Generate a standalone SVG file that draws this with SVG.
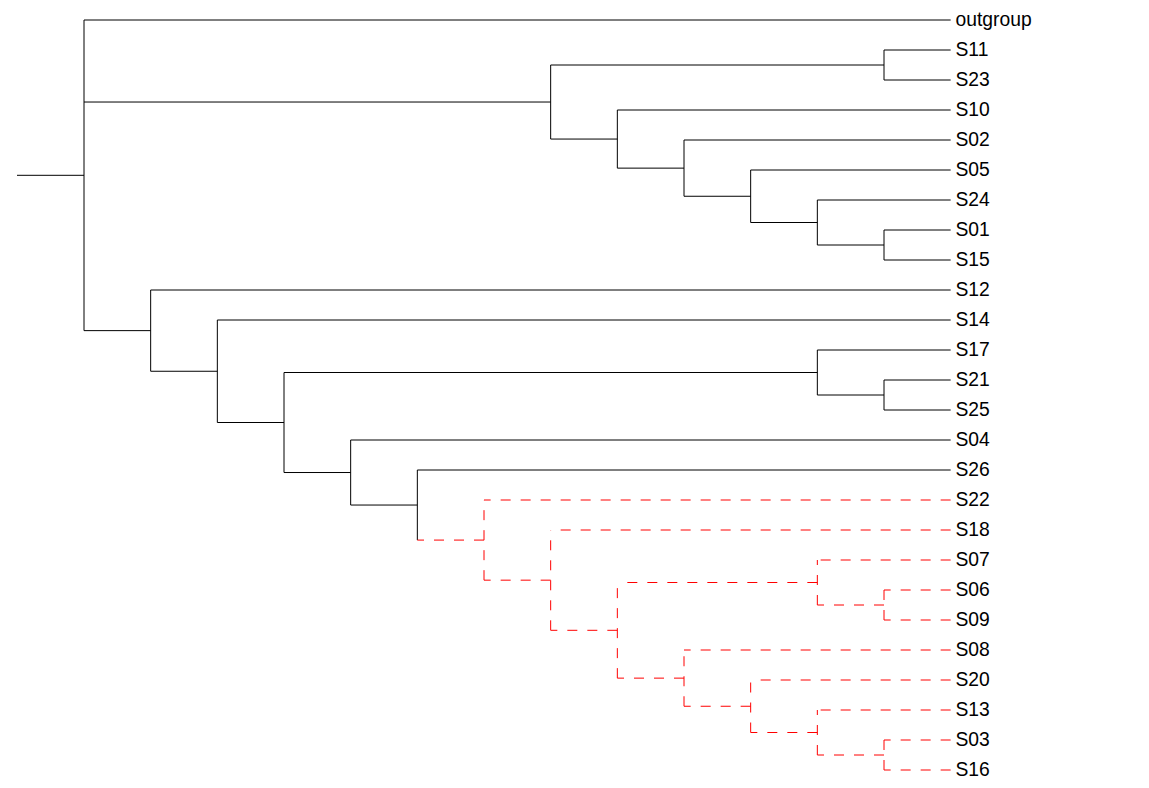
<svg xmlns="http://www.w3.org/2000/svg" width="1149" height="788" viewBox="0 0 1149 788">
<style>
.b{stroke:#000;stroke-width:1;fill:none}
.r{stroke:#FF0000;stroke-width:1;fill:none;stroke-dasharray:10 10}
text{font-family:"Liberation Sans",Arial,sans-serif;font-size:19.3px;fill:#000}
</style>
<rect width="1149" height="788" fill="#fff"/>
<g id="connectors" transform="translate(0,0.5)">
<line class="b" x1="17" y1="174.8" x2="84" y2="174.8"/>
<line class="b" x1="84" y1="19.5" x2="84" y2="330.13"/>
<line class="b" x1="84" y1="19.5" x2="950.67" y2="19.5"/>
<line class="b" x1="84" y1="101.53" x2="550.67" y2="101.53"/>
<line class="b" x1="84" y1="330.13" x2="150.67" y2="330.13"/>
<line class="b" x1="550.67" y1="64.5" x2="550.67" y2="138.56"/>
<line class="b" x1="550.67" y1="64.5" x2="884" y2="64.5"/>
<line class="b" x1="550.67" y1="138.56" x2="617.33" y2="138.56"/>
<line class="b" x1="884" y1="49.5" x2="884" y2="79.5"/>
<line class="b" x1="884" y1="49.5" x2="950.67" y2="49.5"/>
<line class="b" x1="884" y1="79.5" x2="950.67" y2="79.5"/>
<line class="b" x1="617.33" y1="109.5" x2="617.33" y2="167.63"/>
<line class="b" x1="617.33" y1="109.5" x2="950.67" y2="109.5"/>
<line class="b" x1="617.33" y1="167.63" x2="684" y2="167.63"/>
<line class="b" x1="684" y1="139.5" x2="684" y2="195.75"/>
<line class="b" x1="684" y1="139.5" x2="950.67" y2="139.5"/>
<line class="b" x1="684" y1="195.75" x2="750.67" y2="195.75"/>
<line class="b" x1="750.67" y1="169.5" x2="750.67" y2="222"/>
<line class="b" x1="750.67" y1="169.5" x2="950.67" y2="169.5"/>
<line class="b" x1="750.67" y1="222" x2="817.33" y2="222"/>
<line class="b" x1="817.33" y1="199.5" x2="817.33" y2="244.5"/>
<line class="b" x1="817.33" y1="199.5" x2="950.67" y2="199.5"/>
<line class="b" x1="817.33" y1="244.5" x2="884" y2="244.5"/>
<line class="b" x1="884" y1="229.5" x2="884" y2="259.5"/>
<line class="b" x1="884" y1="229.5" x2="950.67" y2="229.5"/>
<line class="b" x1="884" y1="259.5" x2="950.67" y2="259.5"/>
<line class="b" x1="150.67" y1="289.5" x2="150.67" y2="370.76"/>
<line class="b" x1="150.67" y1="289.5" x2="950.67" y2="289.5"/>
<line class="b" x1="150.67" y1="370.76" x2="217.33" y2="370.76"/>
<line class="b" x1="217.33" y1="319.5" x2="217.33" y2="422.01"/>
<line class="b" x1="217.33" y1="319.5" x2="950.67" y2="319.5"/>
<line class="b" x1="217.33" y1="422.01" x2="284" y2="422.01"/>
<line class="b" x1="284" y1="372" x2="284" y2="472.02"/>
<line class="b" x1="284" y1="372" x2="817.33" y2="372"/>
<line class="b" x1="284" y1="472.02" x2="350.67" y2="472.02"/>
<line class="b" x1="817.33" y1="349.5" x2="817.33" y2="394.5"/>
<line class="b" x1="817.33" y1="349.5" x2="950.67" y2="349.5"/>
<line class="b" x1="817.33" y1="394.5" x2="884" y2="394.5"/>
<line class="b" x1="884" y1="379.5" x2="884" y2="409.5"/>
<line class="b" x1="884" y1="379.5" x2="950.67" y2="379.5"/>
<line class="b" x1="884" y1="409.5" x2="950.67" y2="409.5"/>
<line class="b" x1="350.67" y1="439.5" x2="350.67" y2="504.54"/>
<line class="b" x1="350.67" y1="439.5" x2="950.67" y2="439.5"/>
<line class="b" x1="350.67" y1="504.54" x2="417.33" y2="504.54"/>
<line class="b" x1="417.33" y1="469.5" x2="417.33" y2="539.58"/>
<line class="b" x1="417.33" y1="469.5" x2="950.67" y2="469.5"/>
<line class="r" x1="484" y1="539.58" x2="417.33" y2="539.58"/>
<line class="r" x1="484" y1="579.66" x2="484" y2="499.5"/>
<line class="r" x1="950.67" y1="499.5" x2="484" y2="499.5"/>
<line class="r" x1="550.67" y1="579.66" x2="484" y2="579.66"/>
<line class="r" x1="550.67" y1="629.81" x2="550.67" y2="529.5"/>
<line class="r" x1="950.67" y1="529.5" x2="550.67" y2="529.5"/>
<line class="r" x1="617.33" y1="629.81" x2="550.67" y2="629.81"/>
<line class="r" x1="617.33" y1="677.63" x2="617.33" y2="582"/>
<line class="r" x1="817.33" y1="582" x2="617.33" y2="582"/>
<line class="r" x1="817.33" y1="604.5" x2="817.33" y2="559.5"/>
<line class="r" x1="950.67" y1="559.5" x2="817.33" y2="559.5"/>
<line class="r" x1="884" y1="604.5" x2="817.33" y2="604.5"/>
<line class="r" x1="884" y1="619.5" x2="884" y2="589.5"/>
<line class="r" x1="950.67" y1="589.5" x2="884" y2="589.5"/>
<line class="r" x1="950.67" y1="619.5" x2="884" y2="619.5"/>
<line class="r" x1="684" y1="677.63" x2="617.33" y2="677.63"/>
<line class="r" x1="684" y1="705.75" x2="684" y2="649.5"/>
<line class="r" x1="950.67" y1="649.5" x2="684" y2="649.5"/>
<line class="r" x1="750.67" y1="705.75" x2="684" y2="705.75"/>
<line class="r" x1="750.67" y1="732" x2="750.67" y2="679.5"/>
<line class="r" x1="950.67" y1="679.5" x2="750.67" y2="679.5"/>
<line class="r" x1="817.33" y1="732" x2="750.67" y2="732"/>
<line class="r" x1="817.33" y1="754.5" x2="817.33" y2="709.5"/>
<line class="r" x1="950.67" y1="709.5" x2="817.33" y2="709.5"/>
<line class="r" x1="884" y1="754.5" x2="817.33" y2="754.5"/>
<line class="r" x1="884" y1="769.5" x2="884" y2="739.5"/>
<line class="r" x1="950.67" y1="739.5" x2="884" y2="739.5"/>
<line class="r" x1="950.67" y1="769.5" x2="884" y2="769.5"/>
</g>
<g id="tip-outgroup"><text x="955.5" y="25.8">outgroup</text></g>
<g id="tip-S11"><text x="955.5" y="55.8">S11</text></g>
<g id="tip-S23"><text x="955.5" y="85.8">S23</text></g>
<g id="tip-S10"><text x="955.5" y="115.8">S10</text></g>
<g id="tip-S02"><text x="955.5" y="145.8">S02</text></g>
<g id="tip-S05"><text x="955.5" y="175.8">S05</text></g>
<g id="tip-S24"><text x="955.5" y="205.8">S24</text></g>
<g id="tip-S01"><text x="955.5" y="235.8">S01</text></g>
<g id="tip-S15"><text x="955.5" y="265.8">S15</text></g>
<g id="tip-S12"><text x="955.5" y="295.8">S12</text></g>
<g id="tip-S14"><text x="955.5" y="325.8">S14</text></g>
<g id="tip-S17"><text x="955.5" y="355.8">S17</text></g>
<g id="tip-S21"><text x="955.5" y="385.8">S21</text></g>
<g id="tip-S25"><text x="955.5" y="415.8">S25</text></g>
<g id="tip-S04"><text x="955.5" y="445.8">S04</text></g>
<g id="tip-S26"><text x="955.5" y="475.8">S26</text></g>
<g id="tip-S22"><text x="955.5" y="505.8">S22</text></g>
<g id="tip-S18"><text x="955.5" y="535.8">S18</text></g>
<g id="tip-S07"><text x="955.5" y="565.8">S07</text></g>
<g id="tip-S06"><text x="955.5" y="595.8">S06</text></g>
<g id="tip-S09"><text x="955.5" y="625.8">S09</text></g>
<g id="tip-S08"><text x="955.5" y="655.8">S08</text></g>
<g id="tip-S20"><text x="955.5" y="685.8">S20</text></g>
<g id="tip-S13"><text x="955.5" y="715.8">S13</text></g>
<g id="tip-S03"><text x="955.5" y="745.8">S03</text></g>
<g id="tip-S16"><text x="955.5" y="775.8">S16</text></g>
</svg>
